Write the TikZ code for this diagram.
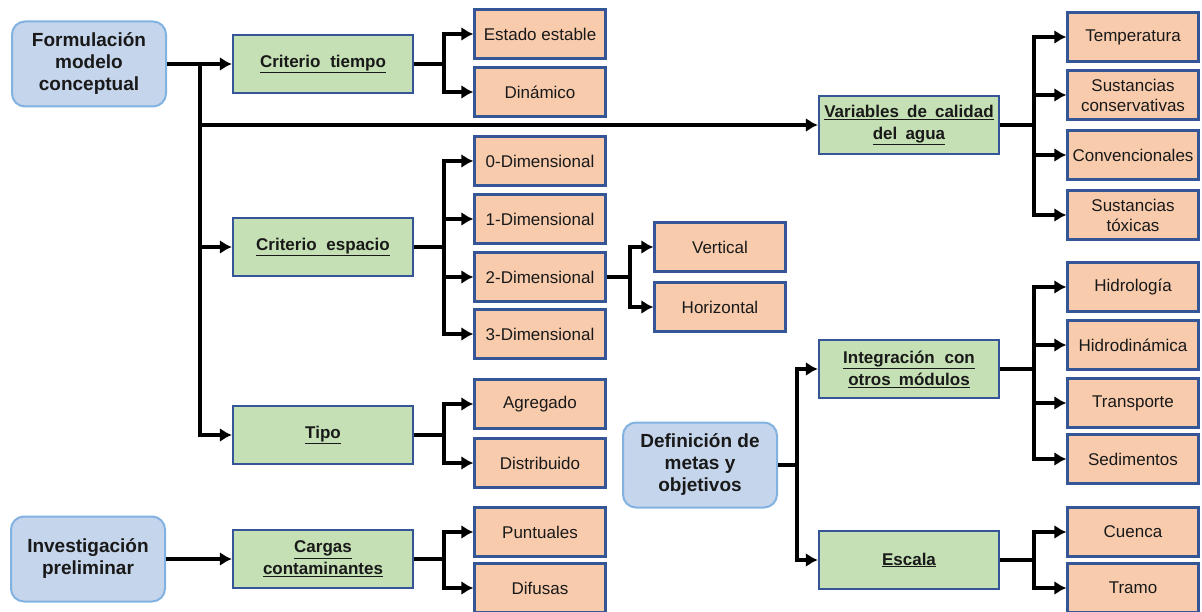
\documentclass[tikz,border=0pt]{standalone}
\usepackage{fontspec}
\setmainfont{Liberation Sans}
\usetikzlibrary{arrows.meta}
\definecolor{leaffill}{RGB}{248,203,173}
\definecolor{boxline}{RGB}{52,86,150}
\definecolor{greenfill}{RGB}{197,224,180}
\definecolor{bluefill}{RGB}{197,213,235}
\definecolor{blueline}{RGB}{130,178,225}
\definecolor{txt}{RGB}{25,25,25}
\tikzset{
  leaf/.style={draw=boxline, line width=2.2pt, fill=leaffill, minimum width=131pt, minimum height=49pt, inner sep=0pt, align=center, text=txt, font=\fontsize{17}{20}\selectfont},
  crit/.style={draw=boxline, line width=2.2pt, fill=greenfill, minimum width=180pt, minimum height=58pt, inner sep=0pt, align=center, text=txt, font=\fontsize{17}{22}\selectfont\bfseries},
  root/.style={draw=blueline, line width=2pt, fill=bluefill, rounded corners=13pt, minimum width=154pt, minimum height=85pt, inner sep=0pt, align=center, text=txt, font=\fontsize{19}{22}\selectfont\bfseries},
  arr/.style={line width=3.6pt, -{Latex[length=12pt,width=14pt]}},
  ln/.style={line width=3.6pt}
}
\begin{document}
\begin{tikzpicture}[x=1pt,y=-1pt]
\useasboundingbox (0,0) rectangle (1202,612);
% roots
\node[root] (fm) at (89,64) {Formulación\\modelo\\conceptual};
\node[root] (ip) at (88,559) {Investigación\\preliminar};
\node[root] (dm) at (700,465) {Definición de\\metas y\\objetivos};
% criteria
\node[crit] (ct) at (323,64) {\underline{Criterio\hspace{0.3em} tiempo}};
\node[crit] (vc) at (909,125) {\underline{Variables\hspace{0.2em} de\hspace{0.2em} calidad}\\\underline{del\hspace{0.2em} agua}};
\node[crit] (ce) at (323,247) {\underline{Criterio\hspace{0.3em} espacio}};
\node[crit] (tp) at (323,435) {\underline{Tipo}};
\node[crit] (cc) at (323,559) {\underline{Cargas}\\\underline{contaminantes}};
\node[crit] (io) at (909,369) {\underline{Integración\hspace{0.3em} con}\\\underline{otros\hspace{0.2em} módulos}};
\node[crit] (es) at (909,560) {\underline{Escala}};
% leaves
\node[leaf] (ee) at (540,34) {Estado estable};
\node[leaf] (di) at (540,92) {Dinámico};
\node[leaf] (d0) at (540,161) {0-Dimensional};
\node[leaf] (d1) at (540,219) {1-Dimensional};
\node[leaf] (d2) at (540,277) {2-Dimensional};
\node[leaf] (d3) at (540,334) {3-Dimensional};
\node[leaf] (ve) at (720,247) {Vertical};
\node[leaf] (ho) at (720,307) {Horizontal};
\node[leaf] (ag) at (540,404) {Agregado};
\node[leaf] (ds) at (540,463) {Distribuido};
\node[leaf] (pu) at (540,532) {Puntuales};
\node[leaf] (df) at (540,588) {Difusas};
\node[leaf] (te) at (1133,37) {Temperatura};
\node[leaf] (sc) at (1133,95) {Sustancias\\conservativas};
\node[leaf] (co) at (1133,155) {Convencionales};
\node[leaf] (st) at (1133,215) {Sustancias\\tóxicas};
\node[leaf] (hi) at (1133,287) {Hidrología};
\node[leaf] (hd) at (1133,345) {Hidrodinámica};
\node[leaf] (tr) at (1133,403) {Transporte};
\node[leaf] (se) at (1133,459) {Sedimentos};
\node[leaf] (cu) at (1133,532) {Cuenca};
\node[leaf] (tm) at (1133,588) {Tramo};
% junctions
\coordinate (jf) at (200,64);
\coordinate (jt) at (444,64);
\coordinate (je) at (444,247);
\coordinate (j2) at (630,277);
\coordinate (jp) at (444,435);
\coordinate (jc) at (444,559);
\coordinate (jv) at (1034,125);
\coordinate (jd) at (797,465);
\coordinate (ji) at (1034,369);
\coordinate (js) at (1034,560);
% connectors
\draw[arr] (fm.east) -- (ct.west);
\draw[arr] (jf) |- (tp.west);
\draw[arr] (jf |- vc.west) -- (vc.west);
\draw[arr] (jf |- ce.west) -- (ce.west);
\draw[ln] (ct.east) -- (jt);
\draw[arr] (jt) |- (ee.west);
\draw[arr] (jt) |- (di.west);
\draw[ln] (ce.east) -- (je);
\draw[arr] (je) |- (d0.west);
\draw[arr] (je) |- (d1.west);
\draw[arr] (je) |- (d2.west);
\draw[arr] (je) |- (d3.west);
\draw[ln] (d2.east) -- (j2);
\draw[arr] (j2) |- (ve.west);
\draw[arr] (j2) |- (ho.west);
\draw[ln] (tp.east) -- (jp);
\draw[arr] (jp) |- (ag.west);
\draw[arr] (jp) |- (ds.west);
\draw[arr] (ip.east) -- (cc.west);
\draw[ln] (cc.east) -- (jc);
\draw[arr] (jc) |- (pu.west);
\draw[arr] (jc) |- (df.west);
\draw[ln] (vc.east) -- (jv);
\draw[arr] (jv) |- (te.west);
\draw[arr] (jv) |- (sc.west);
\draw[arr] (jv) |- (co.west);
\draw[arr] (jv) |- (st.west);
\draw[ln] (dm.east) -- (jd);
\draw[arr] (jd) |- (io.west);
\draw[arr] (jd) |- (es.west);
\draw[ln] (io.east) -- (ji);
\draw[arr] (ji) |- (hi.west);
\draw[arr] (ji) |- (hd.west);
\draw[arr] (ji) |- (tr.west);
\draw[arr] (ji) |- (se.west);
\draw[ln] (es.east) -- (js);
\draw[arr] (js) |- (cu.west);
\draw[arr] (js) |- (tm.west);
\end{tikzpicture}
\end{document}
